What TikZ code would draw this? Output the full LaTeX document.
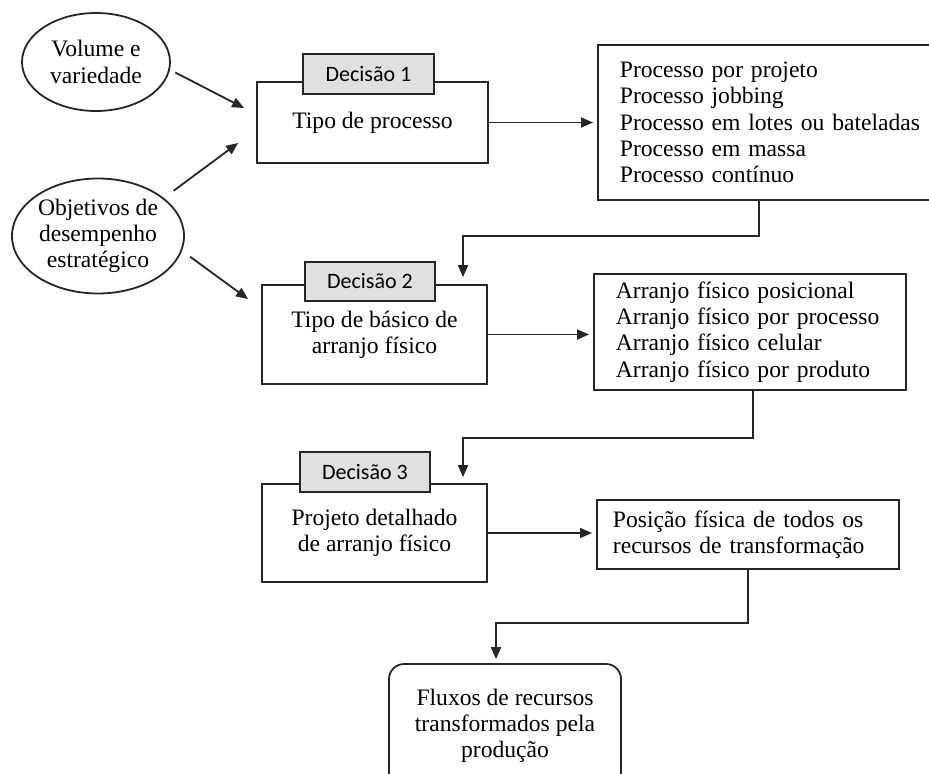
\documentclass[tikz,border=0pt]{standalone}
\usepackage{fontspec}
\setmainfont{Liberation Serif}
\newfontfamily\tagfont{Carlito}
\usetikzlibrary{shapes.geometric,arrows.meta}

\begin{document}
\begin{tikzpicture}[
    x=0.5pt, y=-0.5pt,
    every node/.style={font=\fontsize{11.8}{13.1}\selectfont, inner sep=0pt},
    lnk/.style={line width=0.9pt, draw=black!85,
        -{Triangle[length=6pt,width=5pt]}},
    elipse/.style={ellipse, draw=black!85, line width=0.9pt, align=center},
    caixa/.style={rectangle, draw=black!85, line width=0.9pt, align=center},
    lista/.style={rectangle, draw=black!85, line width=0.9pt, align=left,
        anchor=west},
    decisao/.style={rectangle, draw=black!85, line width=0.9pt, fill=black!12,
        font=\tagfont\fontsize{11}{13}\selectfont,
        minimum width=65.5pt, minimum height=20pt}
    ]
\useasboundingbox (0,0) rectangle (929,774);

%Entradas
\node[elipse, minimum width=74pt, minimum height=49pt] (vol) at (96,62)
    {Volume e\\variedade};
\node[elipse, minimum width=86pt, minimum height=57.5pt] (obj) at (98,236)
    {Objetivos de\\desempenho\\estratégico};

%Decisao 1
\node[caixa, minimum width=115.5pt, minimum height=40.5pt] (proc)
    at (372.5,122.5) {Tipo de processo};
\node[decisao] (dec1) at (368.5,74) {Decisão 1};
\node[lista, text width=170pt, inner xsep=11pt, minimum height=77.5pt] (tipos)
    at (597,122.5) {%
        Processo por projeto\\%
        Processo jobbing\\%
        Processo em lotes ou bateladas\\%
        Processo em massa\\%
        Processo contínuo%
    };

%Decisao 2
\node[caixa, minimum width=112.5pt, minimum height=49.5pt] (arr)
    at (374.5,334.5) {Tipo de básico de\\arranjo físico};
\node[decisao, minimum width=65pt, minimum height=19.5pt] (dec2)
    at (370,281.5) {Decisão 2};
\node[lista, text width=134pt, inner xsep=11pt, minimum height=58pt] (arranjos)
    at (593,332) {%
        Arranjo físico posicional\\%
        Arranjo físico por processo\\%
        Arranjo físico celular\\%
        Arranjo físico por produto%
    };

%Decisao 3
\node[caixa, minimum width=112.5pt, minimum height=49pt] (proj)
    at (374.5,533) {Projeto detalhado\\de arranjo físico};
\node[decisao, minimum width=65pt] (dec3) at (365,472) {Decisão 3};
\node[lista, text width=135pt, inner xsep=8pt, minimum height=34.5pt] (posic)
    at (596,534.5) {Posição física de todos os\\recursos de transformação};

%Saida
\node[caixa, rounded corners=7.5pt, minimum width=116pt, minimum height=62pt]
    (fluxo) at (505,726) {Fluxos de recursos\\transformados pela\\produção};

%Ligacoes
\draw[lnk, shorten <=3pt] (vol.-6) -- ([xshift=-6pt,yshift=7.25pt]proc.west);
\draw[lnk, shorten <=6pt] (obj.30) -- ([xshift=-9pt,yshift=-10.25pt]proc.west);
\draw[lnk, shorten <=5pt] (obj.-10)
    -- ([xshift=-6.5pt,yshift=-7.5pt]arr.north west);

\draw[lnk, shorten >=2pt] (proc.east) -- (proc.east -| tipos.west);
\draw[lnk, shorten >=2pt] (arr.east) -- (arr.east -| arranjos.west);
\draw[lnk, shorten >=2pt] (proj.east) -- (proj.east -| posic.west);

\draw[lnk, shorten >=3.5pt] ([xshift=-15.5pt]tipos.south)
    |- ([xshift=44.25pt,yshift=24pt]arr.north)
    -- ([xshift=44.25pt]arr.north);
\draw[lnk, shorten >=3pt] ([xshift=1.5pt]arranjos.south)
    |- ([xshift=44.25pt,yshift=22.5pt]proj.north)
    -- ([xshift=44.25pt]proj.north);
\draw[lnk, shorten >=2pt] (posic.south)
    |- ([xshift=-4.5pt,yshift=20pt]fluxo.north)
    -- ([xshift=-4.5pt]fluxo.north);
\end{tikzpicture}
\end{document}
